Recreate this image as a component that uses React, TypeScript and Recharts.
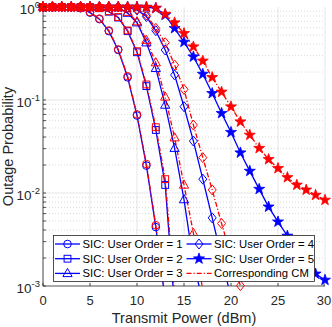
import React from 'react';
import {CartesianGrid, Line, LineChart, ReferenceLine, XAxis, YAxis} from 'recharts';

// transmit power (dBm)
const power = [0, 1, 2, 3, 4, 5, 6, 7, 8, 9, 10, 11, 12, 13, 14, 15, 16, 17, 18, 19, 20, 21, 22, 23, 24, 25, 26, 27, 28, 29, 30];

// outage probability, SIC (blue) and corresponding CM (red)
const sic1 = [1, 1, 1, 0.995, 0.97, 0.87, 0.74, 0.55, 0.345, 0.175, 0.068, 0.0197, 0.0043, 0.0007,
    null, null, null, null, null, null, null, null, null, null, null, null, null, null, null, null, null];
const cm1 = [1, 1, 1, 0.996, 0.975, 0.88, 0.75, 0.56, 0.35, 0.18, 0.07, 0.0205, 0.0045, 0.00075,
    null, null, null, null, null, null, null, null, null, null, null, null, null, null, null, null, null];
const sic2 = [1, 1, 1, 1, 1, 0.995, 0.97, 0.89, 0.77, 0.55, 0.326, 0.141, 0.0476, 0.0122, 0.0006,
    null, null, null, null, null, null, null, null, null, null, null, null, null, null, null, null];
const cm2 = [1, 1, 1, 1, 1, 0.996, 0.975, 0.9, 0.78, 0.56, 0.335, 0.147, 0.051, 0.0141, 0.0008,
    null, null, null, null, null, null, null, null, null, null, null, null, null, null, null, null];
const sic3 = [1, 1, 1, 1, 1, 1, 1, 1, 0.985, 0.86, 0.678, 0.413, 0.219, 0.0883, 0.0303, 0.0085, 0.0018, 0.00068,
    null, null, null, null, null, null, null, null, null, null, null, null, null];
const cm3 = [1, 1, 1, 1, 1, 1, 1, 1, 0.99, 0.88, 0.695, 0.44, 0.252, 0.108, 0.0393, 0.0122, 0.0037, 0.0009,
    null, null, null, null, null, null, null, null, null, null, null, null, null];
const sic4 = [1, 1, 1, 1, 1, 1, 1, 1, 1, 0.99, 0.93, 0.79, 0.556, 0.345, 0.186, 0.0847, 0.0362, 0.0141, 0.0054, 0.002, 0.00075,
    null, null, null, null, null, null, null, null, null, null];
const cm4 = [1, 1, 1, 1, 1, 1, 1, 1, 1, 0.995, 0.95, 0.82, 0.59, 0.413, 0.238, 0.13, 0.0538, 0.024, 0.0108, 0.0047, 0.0021, 0.00101, 0.0004,
    null, null, null, null, null, null, null, null];
const sic5 = [1, 1, 1, 1, 1, 1, 1, 1, 1, 1, 1, 0.995, 0.97, 0.82, 0.59, 0.42, 0.292, 0.19, 0.118, 0.072, 0.045,
    0.0271, 0.0172, 0.011, 0.0071, 0.0049, 0.00345, 0.0025, 0.0018, 0.00135, 0.00116];
const cm5 = [1, 1, 1, 1, 1, 1, 1, 1, 1, 1, 1, 0.997, 0.975, 0.84, 0.678, 0.52, 0.374, 0.263, 0.175, 0.122, 0.0847,
    0.0584, 0.042, 0.0303, 0.023, 0.0184, 0.0147, 0.0122, 0.0108, 0.0095, 0.0084];

const xTicks = [0, 5, 10, 15, 20, 25, 30];
const yDecades = [0.001, 0.01, 0.1, 1];
const yMinor = [0.001, 0.01, 0.1].flatMap((d) => [2, 3, 4, 5, 6, 7, 8, 9].map((m) => +(d * m).toPrecision(3)));

const data = power.map((x, i) => ({
    x,
    sic1: sic1[i], sic2: sic2[i], sic3: sic3[i], sic4: sic4[i], sic5: sic5[i],
    cm1: cm1[i], cm2: cm2[i], cm3: cm3[i], cm4: cm4[i], cm5: cm5[i],
}));

const BLUE = '#0000ff';
const RED = '#ff0000';
const AXIS = '#262626';
const FONT = '"Liberation Sans", Arial, Helvetica, sans-serif';
const DASHDOT = '5 2 1.2 2';

const series = [
    {key: 'sic1', color: BLUE, shape: 'circle', dash: undefined},
    {key: 'sic2', color: BLUE, shape: 'square', dash: undefined},
    {key: 'sic3', color: BLUE, shape: 'triangle', dash: undefined},
    {key: 'sic4', color: BLUE, shape: 'diamond', dash: undefined},
    {key: 'sic5', color: BLUE, shape: 'star', dash: undefined},
    {key: 'cm1', color: RED, shape: 'circle', dash: DASHDOT},
    {key: 'cm2', color: RED, shape: 'square', dash: DASHDOT},
    {key: 'cm3', color: RED, shape: 'triangle', dash: DASHDOT},
    {key: 'cm4', color: RED, shape: 'diamond', dash: DASHDOT},
    {key: 'cm5', color: RED, shape: 'star', dash: DASHDOT},
];

const legendItems = [
    {label: 'SIC: User Order = 1', color: BLUE, shape: 'circle', dash: undefined},
    {label: 'SIC: User Order = 2', color: BLUE, shape: 'square', dash: undefined},
    {label: 'SIC: User Order = 3', color: BLUE, shape: 'triangle', dash: undefined},
    {label: 'SIC: User Order = 4', color: BLUE, shape: 'diamond', dash: undefined},
    {label: 'SIC: User Order = 5', color: BLUE, shape: 'star', dash: undefined},
    {label: 'Corresponding CM', color: RED, shape: null, dash: DASHDOT},
];

function starPoints(cx, cy, ro, ri) {
    const pts = [];
    for (let k = 0; k < 10; k++) {
        const r = k % 2 === 0 ? ro : ri;
        const a = -Math.PI / 2 + (k * Math.PI) / 5;
        pts.push(`${cx + r * Math.cos(a)},${cy + r * Math.sin(a)}`);
    }
    return pts.join(' ');
}

const Marker = ({shape, cx, cy, color}) => {
    const common = {fill: 'none', stroke: color, strokeWidth: 1};
    switch (shape) {
        case 'circle':
            return <circle cx={cx} cy={cy} r={3.8} {...common}/>;
        case 'square':
            return <rect x={cx - 3.4} y={cy - 3.4} width={6.8} height={6.8} {...common}/>;
        case 'triangle':
            return <polygon points={`${cx},${cy - 5} ${cx + 4.6},${cy + 3.2} ${cx - 4.6},${cy + 3.2}`} {...common}/>;
        case 'diamond':
            return <polygon points={`${cx},${cy - 5} ${cx + 4},${cy} ${cx},${cy + 5} ${cx - 4},${cy}`} {...common}/>;
        case 'star':
            return <polygon points={starPoints(cx, cy, 5.8, 2.3)} fill={color} stroke={color} strokeWidth={0.8}/>;
        default:
            return null;
    }
};

const LeftTick = (props) => {
    const {x, y, payload} = props;
    const v = payload.value;
    const exp = Math.round(Math.log10(v));
    const major = Math.abs(Math.log10(v) - exp) < 1e-6;
    return (
        <g>
            <line x1={x} x2={x + 3} y1={y} y2={y} stroke={AXIS} strokeWidth={0.8}/>
            {major && (
                <text x={x - 3} y={y + 6.5} textAnchor="end" fontSize={13.5} fill={AXIS} fontFamily={FONT}>
                    10<tspan fontSize={9.5} dy={-6}>{exp}</tspan>
                </text>
            )}
        </g>
    );
};

const RightTick = ({x, y}) => (
    <line x1={x} x2={x - 3} y1={y} y2={y} stroke={AXIS} strokeWidth={0.8}/>
);

const BottomTick = ({x, y, payload}) => (
    <g>
        <line x1={x} x2={x} y1={y} y2={y - 3} stroke={AXIS} strokeWidth={0.8}/>
        <text x={x} y={y + 18.5} textAnchor="middle" fontSize={13} fill={AXIS} fontFamily={FONT}>
            {payload.value}
        </text>
    </g>
);

const TopTick = ({x, y}) => (
    <line x1={x} x2={x} y1={y} y2={y + 3} stroke={AXIS} strokeWidth={0.8}/>
);

const ChartLegend = () => (
    <svg width={262} height={47} style={{position: 'absolute', left: 53, top: 235}}>
        <rect x={0.5} y={0.5} width={261} height={46} fill="#fff" stroke={AXIS} strokeWidth={0.8}/>
        {legendItems.map((it, i) => {
            const col = i < 3 ? 0 : 1;
            const row = i % 3;
            const lx = col === 0 ? 2 : 133.5;
            const cy = 9 + row * 14.7;
            return (
                <g key={it.label}>
                    <line x1={lx} x2={lx + 25} y1={cy} y2={cy} stroke={it.color} strokeWidth={1.3}
                          strokeDasharray={it.dash}/>
                    {it.shape && <Marker shape={it.shape} cx={lx + 12.5} cy={cy} color={it.color}/>}
                    <text x={lx + 27.5} y={cy + 4} fontSize={11.3} fill="#000" fontFamily={FONT}>{it.label}</text>
                </g>
            );
        })}
    </svg>
);

const App = () => {
    return (
        <div style={{position: 'absolute', left: 0, top: 0, width: 332, height: 327, background: '#fff'}}>
            <LineChart width={332} height={327} data={data}
                       margin={{top: 7, right: 7, bottom: 0, left: 0}}
                       style={{fontFamily: FONT}}>
                <CartesianGrid xAxisId="b" yAxisId="l" horizontal={false} stroke="#dfdfdf" strokeWidth={0.8}/>
                <XAxis xAxisId="b" dataKey="x" type="number" domain={[0, 30]} ticks={xTicks}
                       height={41} tickSize={0} tickMargin={0} tickLine={false}
                       axisLine={{stroke: AXIS, strokeWidth: 0.8}} tick={<BottomTick/>}
                       label={({viewBox}) => (
                           <text x={viewBox.x + viewBox.width / 2} y={viewBox.y + 36.5} textAnchor="middle"
                                 fontSize={14.5} fill={AXIS} fontFamily={FONT}>Transmit Power (dBm)</text>
                       )}/>
                <XAxis xAxisId="t" dataKey="x" type="number" domain={[0, 30]} ticks={xTicks}
                       orientation="top" height={0} tickSize={0} tickMargin={0} tickLine={false}
                       axisLine={{stroke: AXIS, strokeWidth: 0.8}} tick={<TopTick/>}/>
                <YAxis yAxisId="l" type="number" scale="log" domain={[0.001, 1]} allowDataOverflow
                       ticks={[...yDecades, ...yMinor]} width={43} tickSize={0} tickMargin={0} tickLine={false}
                       axisLine={{stroke: AXIS, strokeWidth: 0.8}} tick={<LeftTick/>} interval={0}
                       label={({viewBox}) => (
                           <text x={12.5} y={viewBox.y + viewBox.height / 2} textAnchor="middle"
                                 transform={`rotate(-90, 12.5, ${viewBox.y + viewBox.height / 2})`}
                                 fontSize={14.5} fill={AXIS} fontFamily={FONT}>Outage Probability</text>
                       )}/>
                <YAxis yAxisId="r" type="number" scale="log" domain={[0.001, 1]} orientation="right"
                       ticks={[...yDecades, ...yMinor]} width={0} tickSize={0} tickMargin={0} tickLine={false}
                       axisLine={{stroke: AXIS, strokeWidth: 0.8}} tick={<RightTick/>} interval={0}/>
                {[0.01, 0.1].map((v) => (
                    <ReferenceLine key={`g${v}`} xAxisId="b" yAxisId="l" y={v} stroke="#dfdfdf" strokeWidth={0.8}/>
                ))}
                {yMinor.map((v) => (
                    <ReferenceLine key={`m${v}`} xAxisId="b" yAxisId="l" y={v} stroke="#d0d0d0"
                                   strokeWidth={0.8} strokeDasharray="1 2"/>
                ))}
                {series.map((s) => [
                    <Line key={`${s.key}-line`} xAxisId="b" yAxisId="l" dataKey={s.key} stroke={s.color}
                          strokeWidth={1.3} strokeDasharray={s.dash} dot={false} activeDot={false}
                          isAnimationActive={false}/>,
                    <Line key={`${s.key}-mk`} xAxisId="t" yAxisId="r"
                          dataKey={(d) => (d[s.key] != null && d[s.key] >= 0.001 ? d[s.key] : null)}
                          stroke="none" activeDot={false} isAnimationActive={false}
                          dot={(p) => (p.cy == null || p.value == null
                              ? <g key={`${s.key}-d${p.index}`}/>
                              : <g key={`${s.key}-d${p.index}`}>
                                  <Marker shape={s.shape} cx={p.cx} cy={p.cy} color={s.color}/>
                              </g>)}/>,
                ])}
            </LineChart>
            <ChartLegend/>
        </div>
    );
};

export default App;
